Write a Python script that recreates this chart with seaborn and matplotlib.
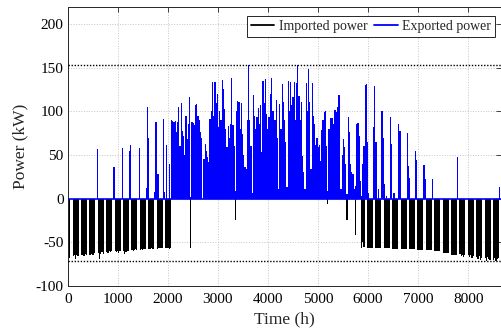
import numpy as np
import pandas as pd
import matplotlib
matplotlib.use("Agg")
import matplotlib.pyplot as plt
import seaborn as sns
from matplotlib.lines import Line2D

# Daily peak exported power (kW), one row per week (day 0 .. 364)
export_kw = [
    0, 0, 0, 0, 0, 0, 0,
    0, 0, 0, 0, 0, 0, 0,
    0, 0, 0, 0, 0, 0, 0,
    0, 0, 0, 57, 0, 0, 0,
    0, 0, 0, 0, 0, 0, 0,
    0, 0, 0, 36, 0, 0, 0,
    0, 0, 0, 58, 0, 0, 0,
    0, 0, 55, 61, 0, 0, 0,
    0, 0, 0, 58, 0, 0, 0,
    0, 0, 12, 105, 69, 0, 0,
    0, 0, 8, 88, 28, 28, 0,
    0, 0, 91, 8, 0, 62, 0,
    40, 0, 90, 89, 88, 89, 76,
    88, 105, 60, 110, 78, 72, 50,
    95, 68, 85, 116, 2, 88, 87,
    84, 107, 109, 95, 90, 76, 70,
    0, 45, 63, 55, 48, 42, 91,
    101, 134, 95, 134, 110, 120, 82,
    101, 90, 136, 126, 103, 80, 59,
    83, 70, 85, 138, 84, 60, 9,
    100, 112, 111, 80, 110, 74, 50,
    36, 34, 90, 153, 90, 60, 7,
    119, 95, 80, 93, 104, 85, 107,
    53, 135, 110, 137, 97, 80, 93,
    120, 138, 101, 101, 90, 113, 70,
    11, 109, 80, 131, 111, 90, 65,
    13, 135, 100, 134, 107, 117, 134,
    90, 132, 153, 118, 90, 111, 49,
    30, 11, 132, 100, 149, 111, 34,
    133, 95, 86, 61, 70, 59, 61,
    43, 79, 90, 99, 101, 60, 9,
    80, 92, 92, 92, 85, 102, 99,
    105, 119, 119, 11, 50, 68, 59,
    40, 5, 93, 76, 40, 30, 28,
    11, 15, 86, 87, 72, 20, 3,
    40, 60, 130, 131, 65, 7, 0,
    0, 0, 82, 129, 65, 0, 11,
    0, 0, 101, 70, 17, 0, 3,
    0, 0, 94, 63, 0, 7, 0,
    0, 0, 85, 78, 0, 0, 0,
    0, 0, 75, 37, 24, 0, 0,
    0, 0, 55, 44, 0, 0, 0,
    0, 0, 39, 23, 0, 0, 0,
    0, 0, 22, 0, 0, 0, 0,
    0, 0, 0, 0, 0, 0, 0,
    0, 0, 0, 0, 0, 0, 0,
    0, 0, 48, 0, 0, 0, 0,
    0, 0, 0, 0, 0, 0, 0,
    0, 0, 0, 0, 0, 0, 0,
    0, 0, 0, 0, 0, 0, 0,
    0, 0, 0, 0, 0, 0, 0,
    0, 0, 13, 0, 0, 0, 0,
    0,
]

# Daily peak imported power (kW, negative), one row per week
import_kw = [
    -65, -68, 0, 0, -66, -64, -69,
    -65, -66, 0, 0, -65, -64, -66,
    -63, -65, 0, 0, -64, -63, -65,
    -64, -62, 0, 0, -62, -69, -63,
    -61, -63, 0, 0, -61, -62, -60,
    -61, -60, 0, 0, -60, -61, -60,
    -62, -60, 0, 0, -60, -63, -61,
    -60, -60, 0, 0, -59, -60, -59,
    -58, -59, 0, 0, -59, -58, -59,
    -58, -58, 0, 0, -58, -58, -57,
    -58, -58, 0, 0, -58, -57, -57,
    -57, -57, 0, 0, -57, -57, -57,
    -58, -57, 0, 0, 0, 0, 0,
    0, 0, 0, 0, 0, 0, 0,
    0, 0, 0, 0, -56, 0, 0,
    0, 0, 0, 0, 0, 0, 0,
    0, 0, 0, 0, 0, 0, 0,
    0, 0, 0, 0, 0, 0, 0,
    0, 0, 0, 0, 0, 0, 0,
    0, 0, 0, 0, 0, 0, -24,
    0, 0, 0, 0, 0, 0, 0,
    0, 0, 0, 0, 0, 0, 0,
    0, 0, 0, 0, 0, 0, 0,
    0, 0, 0, 0, 0, 0, 0,
    0, 0, 0, 0, 0, 0, 0,
    0, 0, 0, 0, 0, 0, 0,
    0, 0, 0, 0, 0, 0, 0,
    0, 0, 0, 0, 0, 0, 0,
    0, 0, 0, 0, 0, 0, 0,
    0, 0, 0, 0, 0, 0, 0,
    0, 0, 0, 0, 0, 0, -6,
    0, 0, 0, 0, 0, 0, 0,
    0, 0, 0, 0, 0, 0, 0,
    0, -24, 0, 0, 0, 0, 0,
    0, -42, 0, 0, 0, 0, -56,
    -50, -55, 0, 0, -57, -57, -57,
    -57, -57, 0, 0, -57, -57, -57,
    -57, -57, 0, 0, -57, -57, -57,
    -57, -57, 0, 0, -58, -58, -58,
    -58, -58, 0, 0, -58, -58, -58,
    -58, -58, 0, 0, -58, -58, -58,
    -58, -58, 0, 0, -59, -59, -59,
    -59, -59, 0, 0, -59, -59, -59,
    -59, -59, 0, 0, -60, -60, -60,
    -60, -60, 0, 0, -62, -62, -62,
    -62, -62, 0, 0, -64, -64, -64,
    -64, -64, 0, 0, -63, -66, -64,
    -67, -65, 0, 0, -65, -67, -64,
    -68, -66, 0, 0, -67, -69, -66,
    -70, -68, 0, 0, -68, -71, -67,
    -69, -70, 0, 0, -70, -68, -71,
    -69, -68, 0, 0, -70, -71, -68,
    -70,
]

series_labels = ["Imported power", "Exported power"]
export_limit_kw = 153
import_limit_kw = -71
x_ticks = list(range(0, 9000, 1000))
y_ticks = list(range(-100, 201, 50))
hours_per_day = 24

assert len(export_kw) == 365 and len(import_kw) == 365

days = np.arange(len(export_kw))
df = pd.DataFrame({
    "hour": days * hours_per_day + hours_per_day / 2,
    "export": export_kw,
    "import": import_kw,
})

sns.set_theme(style="white")
plt.rcParams["font.family"] = ["Liberation Serif", "DejaVu Serif"]
plt.rcParams["axes.edgecolor"] = "#262626"

fig = plt.figure(figsize=(5.02, 3.36), dpi=100)
ax = fig.add_axes([67.7 / 502, 1 - 286 / 336, (501.5 - 67.7) / 502, (286 - 6.6) / 336])

sns.barplot(data=df, x="hour", y="import", native_scale=True, width=1.0,
            color="black", saturation=1, linewidth=0, errorbar=None,
            antialiased=False, ax=ax)
sns.barplot(data=df, x="hour", y="export", native_scale=True, width=1.0,
            color="#0000ff", saturation=1, linewidth=0, errorbar=None,
            antialiased=False, ax=ax)

ax.axhline(0, color="#0000ff", lw=1.2, zorder=3)
ax.axhline(export_limit_kw, color="black", lw=1.0, ls=(0, (1, 1.2)), zorder=4)
ax.axhline(import_limit_kw, color="black", lw=1.0, ls=(0, (1, 1.2)), zorder=4)

ax.set_xlim(0, 8664)
ax.set_ylim(-100, 220)
ax.set_xticks(x_ticks)
ax.set_yticks(y_ticks)
ax.set_xticklabels([str(t) for t in x_ticks])
ax.set_yticklabels([str(t) for t in y_ticks])
ax.grid(True, linestyle=":", color="#c4c4c4", linewidth=0.7)
ax.set_axisbelow(True)
ax.tick_params(direction="in", top=True, right=True, length=3.5, width=0.6,
               color="#262626", labelsize=11, labelcolor="black", pad=3)
ax.tick_params(axis="x", pad=5)
for s in ax.spines.values():
    s.set_linewidth(0.7)
    s.set_color("#262626")

ax.set_xlabel("Time (h)", fontsize=12.5, labelpad=4)
ax.set_ylabel("Power (kW)", fontsize=12.5, labelpad=5)

handles = [Line2D([0], [0], color="black", lw=1.3),
           Line2D([0], [0], color="#0000ff", lw=1.3)]
leg = ax.legend(handles, series_labels, loc="upper right", bbox_to_anchor=(0.985, 0.968),
                borderaxespad=0, ncol=2, fontsize=10, handlelength=1.7,
                handletextpad=0.3, columnspacing=0.5, borderpad=0.3,
                frameon=True, fancybox=False, framealpha=1)
leg.get_frame().set_edgecolor("#262626")
leg.get_frame().set_linewidth(0.7)

fig.savefig("out.png", dpi=100)
